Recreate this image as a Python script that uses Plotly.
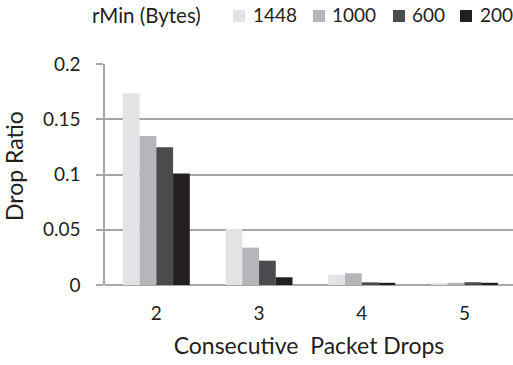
import plotly.graph_objects as go

categories = ["2", "3", "4", "5"]
series_names = ["1448", "1000", "600", "200"]
v1448 = [0.1735, 0.0507, 0.009, 0.0015]
v1000 = [0.1348, 0.0338, 0.0106, 0.002]
v600 = [0.1246, 0.022, 0.0024, 0.0025]
v200 = [0.101, 0.007, 0.002, 0.002]
series_values = [v1448, v1000, v600, v200]
colors = ["#e2e3e5", "#b5b6b9", "#4a4b4d", "#231f20"]
legend_title = "rMin (Bytes)"
x_title = "Consecutive  Packet Drops"
y_title = "Drop Ratio"

FONT = "Lato"
TXT = "#231f20"
GRID = "#a6a6a6"

W, H = 513, 365
ML, MR, MT, MB = 105, 0, 64, 80
PW, PH = W - ML - MR, H - MT - MB

def px_x(p):
    return (p - ML) / PW

def px_y(p):
    return (H - MB - p) / PH

fig = go.Figure()
for name, vals, col in zip(series_names, series_values, colors):
    fig.add_trace(go.Bar(x=categories, y=vals, name=name, showlegend=False,
                         marker=dict(color=col, line=dict(width=0))))

# manual legend (header row)
annotations = [dict(text=legend_title, xref="paper", yref="paper", x=px_x(90), y=px_y(15),
                    xanchor="left", yanchor="middle", showarrow=False,
                    font=dict(size=20.5, family=FONT, color=TXT))]
shapes = []
sq_left = [233, 313, 393, 460]
txt_left = [251, 330, 410, 478]
for name, col, sx, tx in zip(series_names, colors, sq_left, txt_left):
    shapes.append(dict(type="rect", xref="paper", yref="paper",
                       x0=px_x(sx), x1=px_x(sx + 12), y0=px_y(22), y1=px_y(10),
                       fillcolor=col, line=dict(width=0)))
    annotations.append(dict(text=name, xref="paper", yref="paper", x=px_x(tx), y=px_y(15),
                            xanchor="left", yanchor="middle", showarrow=False,
                            font=dict(size=19, family=FONT, color=TXT)))

# y-axis title
annotations.append(dict(text=y_title, xref="paper", yref="paper", x=px_x(14), y=px_y(166),
                        xanchor="center", yanchor="middle", textangle=-90, showarrow=False,
                        font=dict(size=23, family=FONT, color=TXT)))

fig.update_layout(
    width=W, height=H,
    margin=dict(l=ML, r=MR, t=MT, b=MB),
    paper_bgcolor="white", plot_bgcolor="white",
    barmode="group", bargap=0.348, bargroupgap=0,
    font=dict(family=FONT, color=TXT, size=19),
    showlegend=False,
    annotations=annotations,
    shapes=shapes,
    xaxis=dict(
        range=[-0.5, 3.473], showgrid=False, showline=False, ticks="",
        tickfont=dict(size=19), zeroline=False, ticklabelstandoff=15,
        title=dict(text=x_title, font=dict(size=23), standoff=14),
    ),
    yaxis=dict(
        range=[0, 0.2], dtick=0.05, tick0=0, showgrid=True, gridcolor=GRID, gridwidth=1.5,
        zeroline=True, zerolinecolor=GRID, zerolinewidth=1.5,
        showline=True, linecolor=GRID, linewidth=1.5,
        ticks="outside", ticklen=7, tickcolor=GRID, tickwidth=1.5,
        tickfont=dict(size=19), ticklabelstandoff=12,
    ),
)

fig.write_html("out.html")
